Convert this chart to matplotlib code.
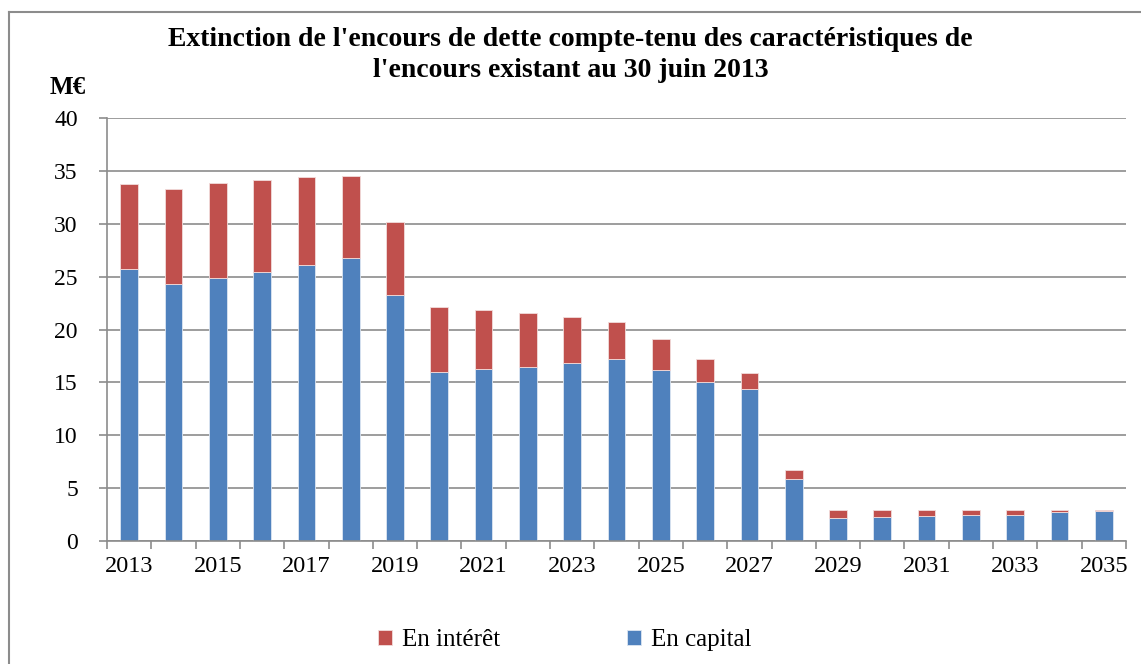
import numpy as np
import matplotlib
matplotlib.use("Agg")
import matplotlib.pyplot as plt
from matplotlib.lines import Line2D

years = list(range(2013, 2036))
capital = [25.7, 24.3, 24.9, 25.5, 26.1, 26.8, 23.3, 16.0, 16.3, 16.5, 16.8, 17.2,
           16.2, 15.0, 14.4, 5.9, 2.2, 2.3, 2.4, 2.5, 2.5, 2.7, 2.85]
total = [33.8, 33.3, 33.9, 34.2, 34.4, 34.55, 30.2, 22.1, 21.9, 21.6, 21.2, 20.7,
         19.1, 17.2, 15.9, 6.7, 2.9, 2.9, 2.9, 2.9, 2.9, 2.9, 2.92]
interet = [t - c for t, c in zip(total, capital)]

title = "Extinction de l'encours de dette compte-tenu des caractéristiques de\nl'encours existant au 30 juin 2013"
red = "#C0504D"
blue = "#4F81BD"
grey = "#8C8C8C"

plt.rcParams["font.family"] = ["Liberation Serif", "DejaVu Serif"]

fig = plt.figure(figsize=(11.41, 6.64), dpi=100)
ax = fig.add_axes([107 / 1141, 1 - 541 / 664, (1126 - 107) / 1141, (541 - 118.3) / 664])

x = np.arange(len(years))
w = 0.4
ax.bar(x, capital, w, color=blue, edgecolor="#dce6f2", linewidth=0.6, label="En capital", zorder=2)
ax.bar(x, interet, w, bottom=capital, color=red, edgecolor="#f2dcdb", linewidth=0.6,
       label="En intérêt", zorder=2)

ax.set_xlim(-0.5, len(years) - 0.5)
ax.set_ylim(0, 40)
ax.set_yticks(np.arange(0, 41, 5))
ax.yaxis.grid(True, color=grey, linewidth=1.2, zorder=0)
ax.set_axisbelow(True)

# ticks sit between the bars, labels every other year under the bars
ax.set_xticks(np.arange(-0.5, len(years), 1.0))
ax.set_xticklabels([])
ax.set_xticks(x[::2], minor=True)
ax.set_xticklabels([str(y) for y in years[::2]], minor=True)
ax.tick_params(axis="x", which="major", length=6, color=grey, width=1.2)
ax.tick_params(axis="x", which="minor", length=0, pad=11, labelsize=17.5)
ax.tick_params(axis="y", length=6, color=grey, width=1.2, pad=15, labelsize=17)

for s in ["top", "right"]:
    ax.spines[s].set_visible(False)
for s in ["left", "bottom"]:
    ax.spines[s].set_color(grey)
    ax.spines[s].set_linewidth(1.2)

fig.text(0.5, 1 - 55 / 664, title, ha="center", va="center", fontsize=20,
         fontweight="bold", linespacing=1.3)
fig.text(68 / 1141, 1 - 88 / 664, "M€", ha="center", va="center", fontsize=18, fontweight="bold")

handles, labels = ax.get_legend_handles_labels()
fig.legend(handles[::-1], labels[::-1], loc="center", bbox_to_anchor=(0.495, 1 - 640 / 664),
           ncol=2, frameon=False, fontsize=18, handlelength=0.55, handleheight=0.55,
           handletextpad=0.4, columnspacing=5.1)

# chart frame (only top and left edges are visible)
fig.add_artist(Line2D([9 / 1141, 9 / 1141], [0, 1 - 11.7 / 664], transform=fig.transFigure,
                      color=grey, linewidth=1.5))
fig.add_artist(Line2D([9 / 1141, 1], [1 - 11.7 / 664, 1 - 11.7 / 664], transform=fig.transFigure,
                      color=grey, linewidth=1.5))

fig.savefig("out.png", dpi=100)
